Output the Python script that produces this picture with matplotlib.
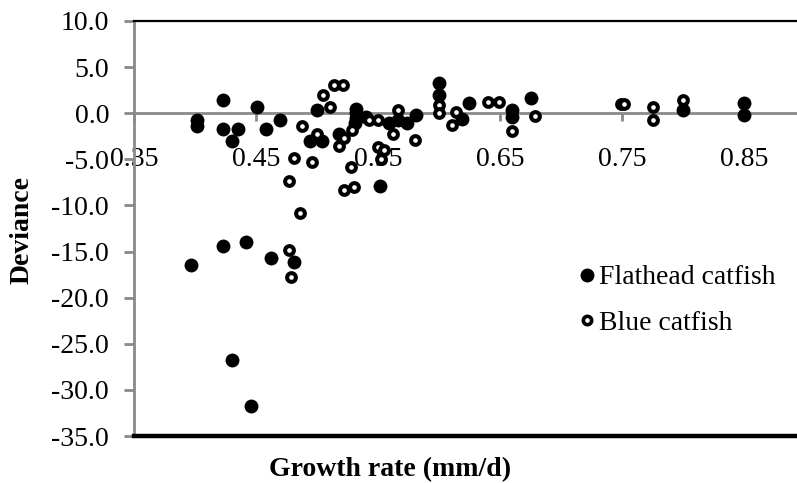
import matplotlib
matplotlib.use("Agg")
import matplotlib.pyplot as plt
from matplotlib.lines import Line2D

# Flathead catfish (filled markers)
flathead_rate = [0.397, 0.402, 0.402, 0.423, 0.423, 0.423, 0.430, 0.430, 0.435, 0.442,
                 0.446, 0.451, 0.458, 0.462, 0.470, 0.481, 0.494, 0.500, 0.504, 0.518,
                 0.532, 0.532, 0.532, 0.531, 0.540, 0.552, 0.559, 0.566, 0.574, 0.581,
                 0.600, 0.600, 0.619, 0.625, 0.660, 0.660, 0.675, 0.800, 0.850, 0.850]
flathead_dev = [-16.5, -0.7, -1.4, 1.4, -1.7, -14.4, -3.0, -26.8, -1.7, -14.0,
                -31.8, 0.7, -1.7, -15.7, -0.7, -16.1, -3.0, 0.3, -3.0, -2.2,
                0.5, 0.0, -0.5, -1.1, -0.4, -7.9, -1.1, -0.7, -1.1, -0.2,
                3.3, 2.0, -0.6, 1.1, 0.35, -0.4, 1.7, 0.35, 1.1, -0.2]

# Blue catfish (open markers)
blue_rate = [0.477, 0.477, 0.479, 0.481, 0.486, 0.488, 0.496, 0.500, 0.505, 0.511,
             0.514, 0.521, 0.518, 0.522, 0.528, 0.529, 0.522, 0.530, 0.543, 0.550,
             0.550, 0.555, 0.5525, 0.562, 0.566, 0.580, 0.600, 0.600, 0.611, 0.614,
             0.640, 0.649, 0.660, 0.679, 0.749, 0.752, 0.775, 0.775, 0.800]
blue_dev = [-7.4, -14.8, -17.8, -4.9, -10.8, -1.35, -5.3, -2.3, 2.0, 0.7,
            3.1, 3.1, -3.6, -2.7, -5.8, -1.8, -8.3, -8.0, -0.75, -0.75,
            -3.7, -4.0, -5.0, -2.2, 0.35, -2.9, 0.9, 0.0, -1.3, 0.15,
            1.25, 1.25, -1.9, -0.25, 1.05, 1.05, 0.7, -0.75, 1.4]

x_ticks = [0.35, 0.45, 0.55, 0.65, 0.75, 0.85]
y_ticks = [10, 5, 0, -5, -10, -15, -20, -25, -30, -35]

plt.rcParams["font.family"] = ["Liberation Serif", "DejaVu Serif"]
plt.rcParams["font.size"] = 20

W, H = 797, 483
fig = plt.figure(figsize=(W / 100, H / 100), dpi=100)
left, top, bottom = 134, 21, 436
width = 0.55 * 1220
ax = fig.add_axes([left / W, (H - bottom) / H, width / W, (bottom - top) / H])

gray = "#8a8a8a"

ax.scatter(flathead_rate, flathead_dev, s=10.0 ** 2, color="black", zorder=3, linewidths=0)
ax.scatter(blue_rate, blue_dev, s=6.3 ** 2, facecolor="white", edgecolor="black",
           linewidths=2.9, zorder=4)

ax.set_xlim(0.35, 0.90)
ax.set_ylim(-35, 10)
ax.set_xticks(x_ticks)
ax.set_xticklabels([f"{v:.2f}" for v in x_ticks])
ax.set_yticks(y_ticks)
ax.set_yticklabels([f"{v:.1f}" for v in y_ticks])

ax.spines["bottom"].set_position(("data", 0))
ax.spines["bottom"].set_color(gray)
ax.spines["bottom"].set_linewidth(2)
ax.spines["left"].set_color(gray)
ax.spines["left"].set_linewidth(2)
ax.spines["top"].set_color("black")
ax.spines["top"].set_linewidth(1.6)
ax.spines["right"].set_visible(False)
ax.axhline(-35, color="black", lw=3.2, clip_on=False, zorder=5)

ax.tick_params(axis="x", direction="out", length=6, width=2, color=gray, pad=18)
ax.tick_params(axis="y", direction="out", length=7, width=2, color=gray, pad=11)

fig.text(22 / W, 1 - 230 / H, "Deviance", rotation=90, ha="center", va="center",
         fontweight="bold")
fig.text(390 / W, 1 - 470 / H, "Growth rate (mm/d)", ha="center", va="center",
         fontweight="bold")

handles = [
    Line2D([], [], marker="o", linestyle="none", color="black", markersize=9),
    Line2D([], [], marker="o", linestyle="none", markerfacecolor="white",
           markeredgecolor="black", markeredgewidth=2.6, markersize=6),
]
ax.legend(handles, ["Flathead catfish", "Blue catfish"], loc="upper left",
          bbox_to_anchor=(580 / W, 1 - 265 / H), bbox_transform=fig.transFigure,
          frameon=False, handlelength=0.5, handletextpad=0.2, labelspacing=0.72,
          borderpad=0, borderaxespad=0)

fig.savefig("out.png", dpi=100)
